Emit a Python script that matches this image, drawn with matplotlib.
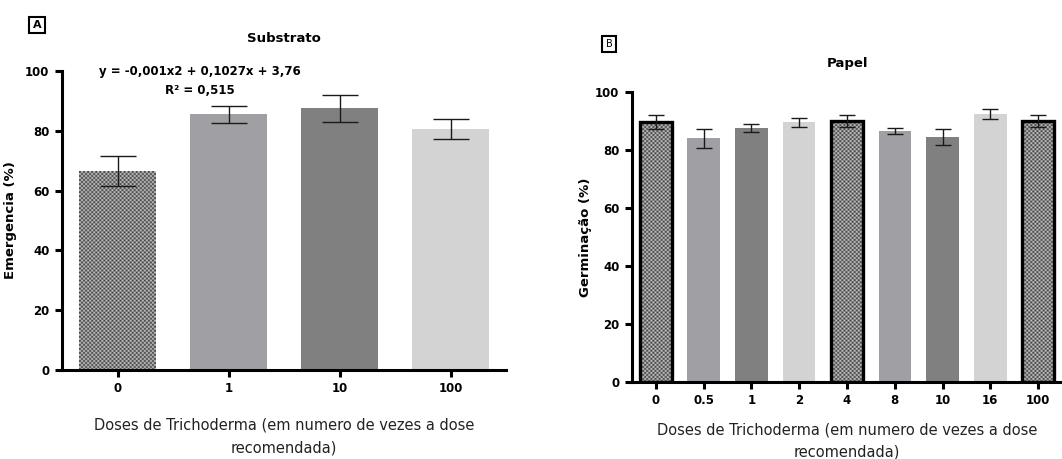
import matplotlib
matplotlib.use("Agg")
import matplotlib.pyplot as plt
import numpy as np

plt.rcParams['font.family'] = 'DejaVu Sans'

# Substrato (emergencia)
doses_sub = ['0', '1', '10', '100']
emerg = [66.5, 85.5, 87.5, 80.5]
emerg_err = [5.0, 2.9, 4.4, 3.3]

# Papel (germinacao)
doses_pap = ['0', '0.5', '1', '2', '4', '8', '10', '16', '100']
germ = [89.5, 84.0, 87.5, 89.5, 90.0, 86.5, 84.5, 92.5, 90.0]
germ_err = [2.4, 3.2, 1.3, 1.5, 2.0, 1.1, 2.7, 1.7, 2.0]

W, H = 1062, 459
fig = plt.figure(figsize=(W / 100, H / 100), dpi=100)


def box(left, top, right, bottom):
    # pixel box -> figure fraction rect
    return [left / W, (H - bottom) / H, (right - left) / W, (bottom - top) / H]


def checker(ax, bar):
    # fill a bar with a fine black/white checkerboard
    x0, y0 = bar.get_x(), bar.get_y()
    x1, y1 = x0 + bar.get_width(), y0 + bar.get_height()
    p0 = ax.transData.transform((x0, y0))
    p1 = ax.transData.transform((x1, y1))
    nx = max(1, int(abs(p1[0] - p0[0]) / 2.0))
    ny = max(1, int(abs(p1[1] - p0[1]) / 2.0))
    ii, jj = np.indices((ny, nx))
    img = np.where((ii + jj) % 2 == 0, 0.25, 0.78)
    im = ax.imshow(img, cmap='gray', vmin=0, vmax=1, extent=(x0, x1, y0, y1),
                   aspect='auto', interpolation='antialiased', zorder=2)
    im.set_clip_path(bar)
    bar.set_facecolor('none')


def style(ax, n):
    for s in ['top', 'right']:
        ax.spines[s].set_visible(False)
    for s in ['left', 'bottom']:
        ax.spines[s].set_linewidth(2.2)
    ax.set_ylim(0, 100)
    ax.set_xlim(-0.5, n - 0.5)
    ax.set_yticks([0, 20, 40, 60, 80, 100])
    ax.tick_params(axis='both', width=2.2, length=5, labelsize=8.5, pad=4)
    for lab in ax.get_xticklabels() + ax.get_yticklabels():
        lab.set_fontweight('bold')


shades = ['#a0a0a4', '#808080', '#d3d3d3']
xlab = 'Doses de Trichoderma (em numero de vezes a dose\nrecomendada)'

# ---- Panel A ----
axA = fig.add_axes(box(62, 71, 506, 370))
xa = np.arange(len(doses_sub))
cols_a = ['#777777'] + shades
barsA = axA.bar(xa, emerg, width=0.69, color=cols_a, linewidth=0, zorder=1)
style(axA, len(doses_sub))
axA.set_xticks(xa)
axA.set_xticklabels(doses_sub, fontweight='bold')
checker(axA, barsA[0])
axA.errorbar(xa, emerg, yerr=emerg_err, fmt='none', ecolor='#1a1a1a',
             elinewidth=1.0, capsize=13, capthick=1.0, zorder=4)
axA.set_ylabel('Emergencia (%)', fontsize=9.5, fontweight='bold')
axA.yaxis.set_label_coords(-0.101, 0.5)
axA.set_xlabel(xlab, fontsize=10.5, linespacing=1.6, color='#222222')
axA.xaxis.set_label_coords(0.5, -0.16)
axA.set_title('Substrato', fontsize=9.5, fontweight='bold', pad=21)

fig.text(200 / W, 1 - 71 / H, 'y = -0,001x2 + 0,1027x + 3,76', ha='center',
         va='center', fontsize=8.5, fontweight='bold')
fig.text(200 / W, 1 - 91 / H, 'R² = 0,515', ha='center', va='center',
         fontsize=8.5, fontweight='bold')

# ---- Panel B ----
axB = fig.add_axes(box(632, 92, 1062, 382))
xb = np.arange(len(doses_pap))
cols_b = ['#777777'] + shades + ['#777777'] + shades + ['#777777']
barsB = axB.bar(xb, germ, width=0.68, color=cols_b, linewidth=0, zorder=1)
style(axB, len(doses_pap))
axB.set_xticks(xb)
axB.set_xticklabels(doses_pap, fontweight='bold')
for i in [0, 4, 8]:
    checker(axB, barsB[i])
    barsB[i].set_edgecolor('black')
    barsB[i].set_linewidth(2.4)
    barsB[i].set_zorder(3)
axB.errorbar(xb, germ, yerr=germ_err, fmt='none', ecolor='#1a1a1a',
             elinewidth=1.0, capsize=6, capthick=1.0, zorder=4)
axB.set_ylabel('Germinação (%)', fontsize=9.5, fontweight='bold')
axB.yaxis.set_label_coords(-0.093, 0.5)
axB.set_xlabel(xlab, fontsize=10.5, linespacing=1.6, color='#222222')
axB.xaxis.set_label_coords(0.5, -0.14)
axB.set_title('Papel', fontsize=9.5, fontweight='bold', pad=18)

# panel letters
fig.text(37 / W, 1 - 25 / H, 'A', ha='center', va='center', fontsize=8,
         fontweight='bold', bbox=dict(boxstyle='square,pad=0.3', fc='white',
                                      ec='black', lw=1.5))
fig.text(609 / W, 1 - 44 / H, 'B', ha='center', va='center', fontsize=7,
         bbox=dict(boxstyle='square,pad=0.35', fc='white', ec='black', lw=1.5))

fig.savefig('out.png', dpi=100)
